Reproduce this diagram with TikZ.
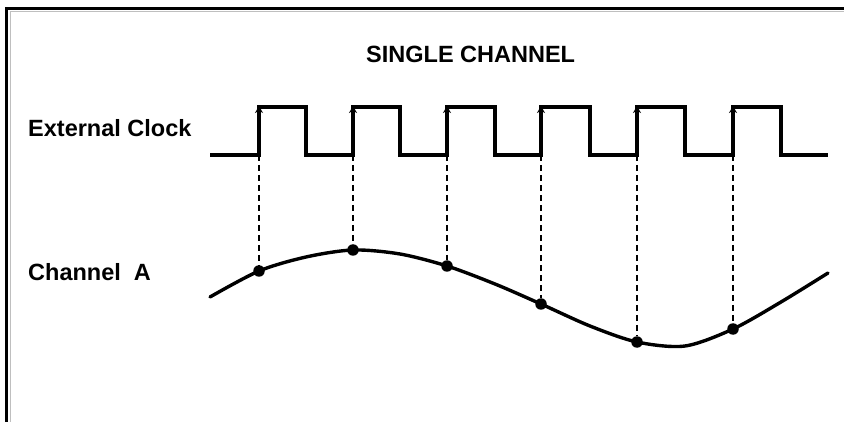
\documentclass[tikz,border=0pt]{standalone}
\usepackage{fontspec}
\setmainfont{Liberation Sans}
\usetikzlibrary{arrows.meta}
\begin{document}
\begin{tikzpicture}[x=1pt,y=-1pt,
  lbl/.style={inner sep=0pt,anchor=base west,font=\bfseries\fontsize{23.5}{28}\selectfont},
  clk/.style={line width=3.3pt,line join=miter},
  edgearrow/.style={line width=3.3pt,-{Stealth[length=7pt,width=8pt]}},
  guide/.style={line width=1.2pt,dash pattern=on 6pt off 4pt},
  sig/.style={line width=3.4pt,line cap=round},
  sample/.style={circle,fill=black,inner sep=0pt,minimum size=11.5pt}]
\useasboundingbox (0,0) rectangle (844,422);
% frame
\draw[black!25,line width=1pt] (10,422) -- (10,11.5) -- (844,11.5);
\draw[line width=2.2pt] (6.5,422) -- (6.5,8.5) -- (844,8.5);
% labels
\node[lbl] (title) at (366,63) {SINGLE CHANNEL};
\node[lbl] (clklbl) at (28,137) {External Clock};
\node[lbl] (chlbl) at (28,281) {Channel\ \ A};
% clock
\draw[clk] (210,155) -- (259,155) -- (259,107) -- (306,107) -- (306,155)
  -- (353,155) -- (353,107) -- (400,107) -- (400,155)
  -- (447,155) -- (447,107) -- (495,107) -- (495,155)
  -- (541,155) -- (541,107) -- (590,107) -- (590,155)
  -- (637,155) -- (637,107) -- (685,107) -- (685,155)
  -- (733,155) -- (733,107) -- (781,107) -- (781,155) -- (828,155);
\draw[line width=4.2pt] (210,155) -- (259,155);
\foreach \i/\x in {1/259,2/353,3/447,4/541,5/637,6/733}{
  \coordinate (lo\i) at (\x,155);
  \coordinate (hi\i) at (\x,106);
  \draw[edgearrow] (lo\i) -- (hi\i);
}
% signal
\draw[sig] plot[smooth,tension=0.5] coordinates {(210,297) (259,271) (306,257) (353,250) (400,254) (447,266) (495,284) (541,304) (590,326) (637,342) (685,346) (733,329) (781,302) (828,273)};
\foreach \i/\x/\y in {1/259/271,2/353/250,3/447/266,4/541/304,5/637/342,6/733/329}{
  \node[sample] (s\i) at (\x,\y) {};
  \draw[guide] (lo\i) -- (s\i);
}
\end{tikzpicture}
\end{document}
